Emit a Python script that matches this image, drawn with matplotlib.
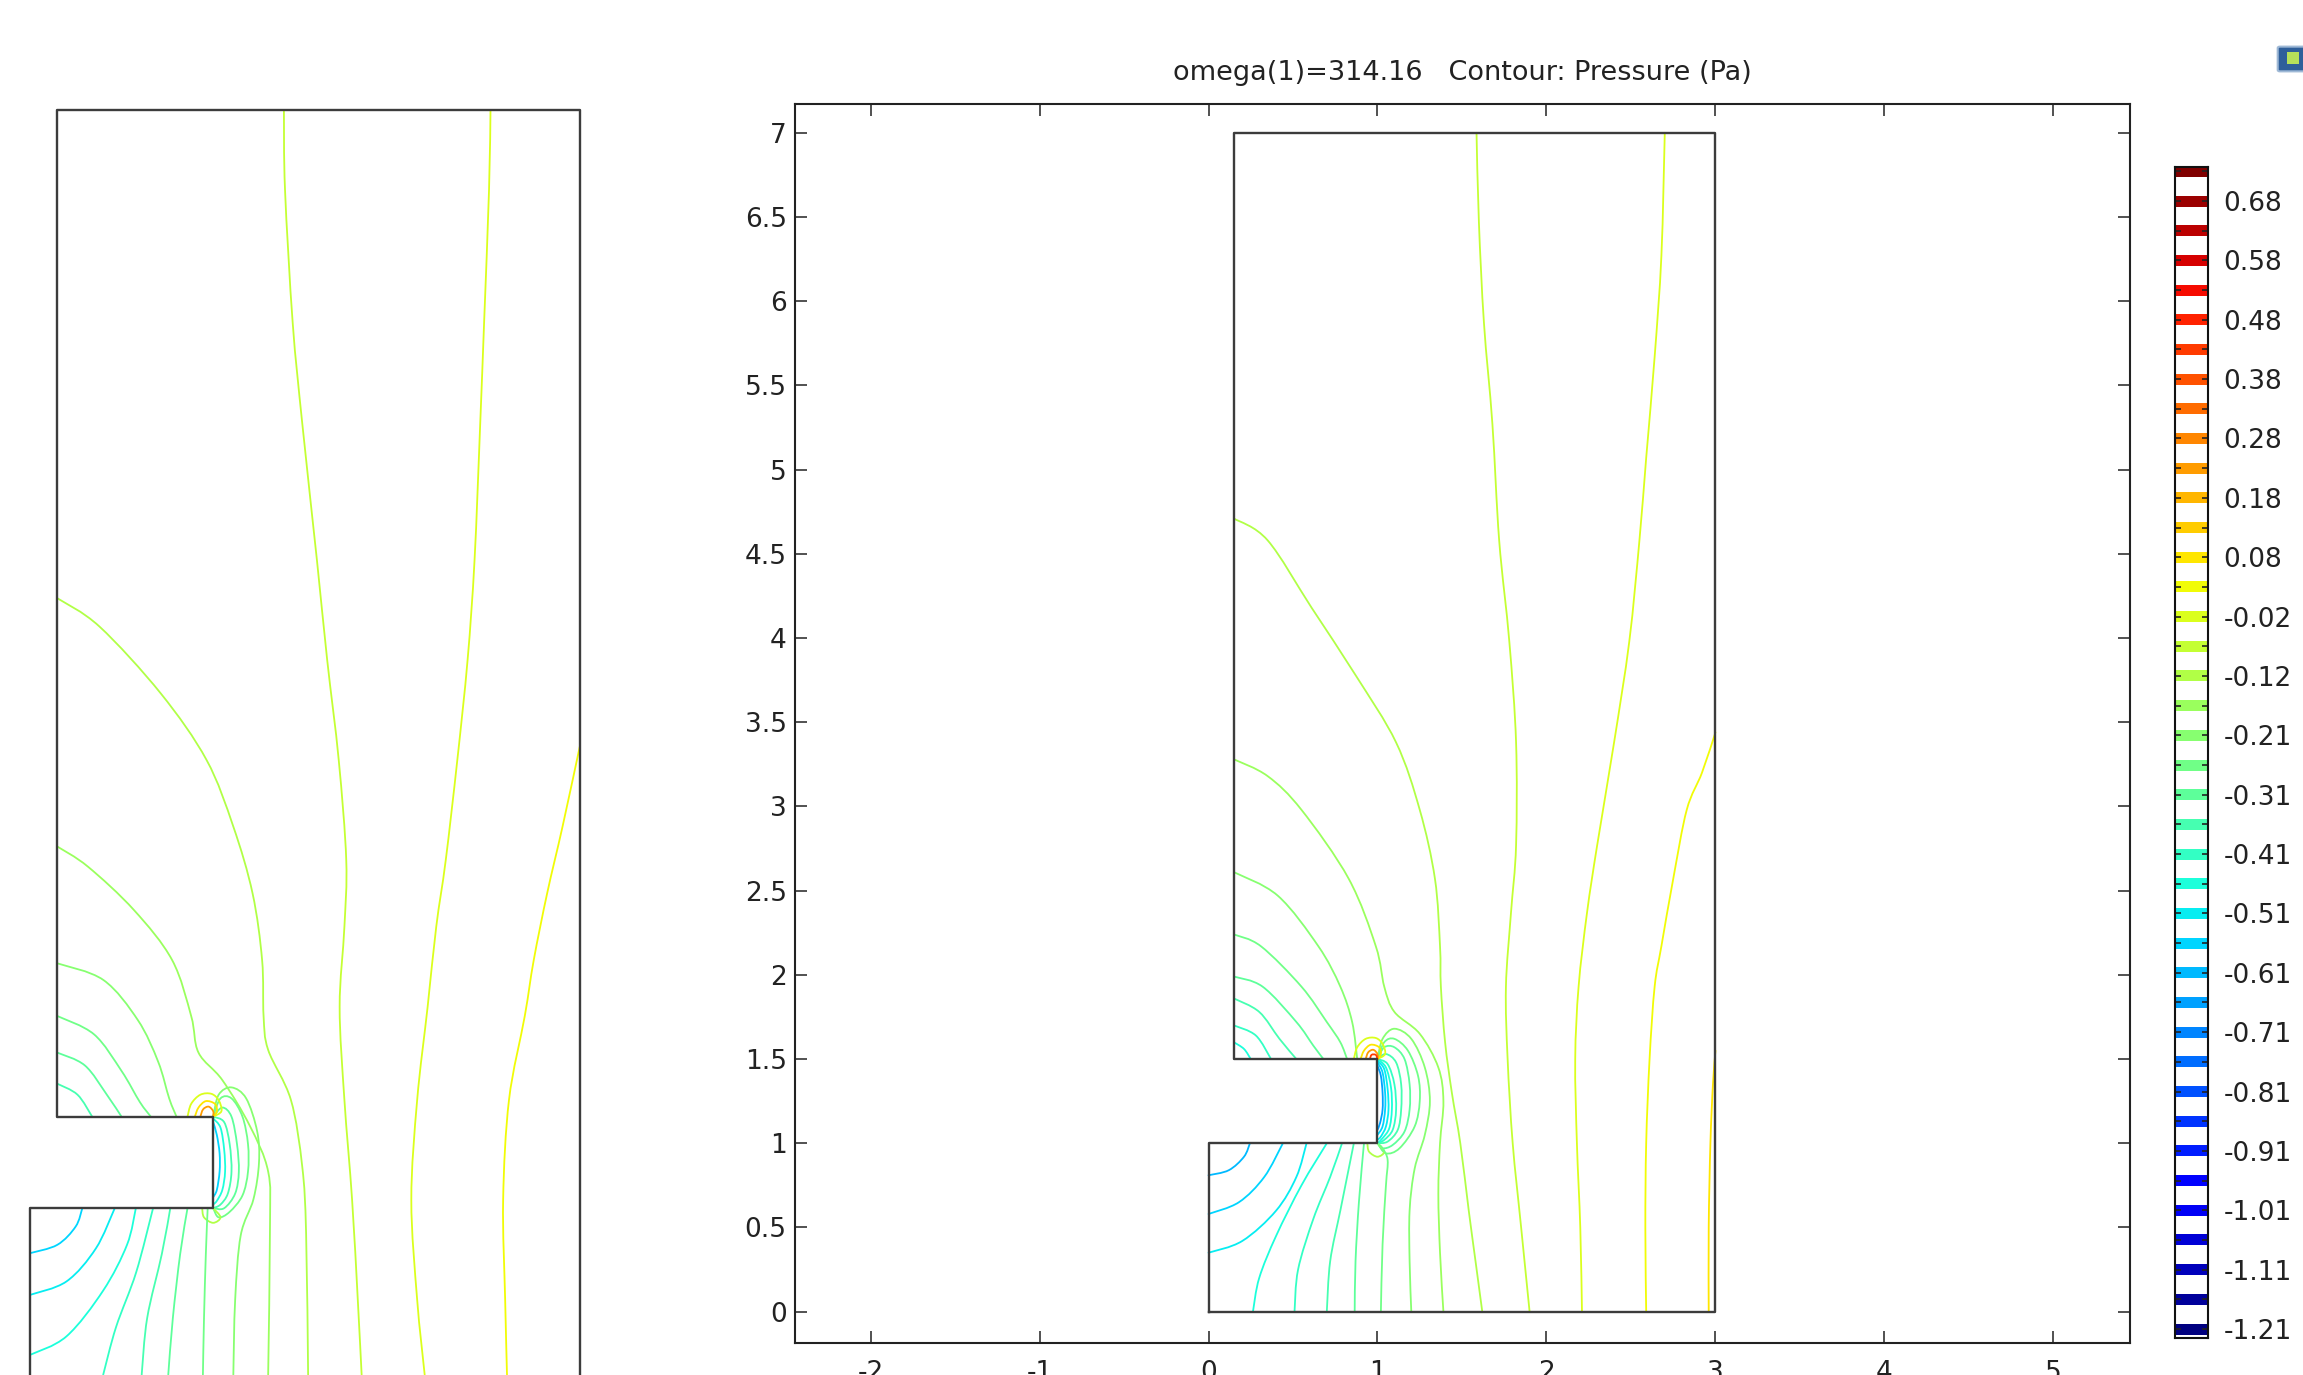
import matplotlib
matplotlib.use('Agg')
import matplotlib.pyplot as plt
from matplotlib.colors import Normalize
from matplotlib.patches import FancyBboxPatch, PathPatch
from matplotlib.path import Path

# contour levels of the pressure (Pa), 40 of them, as in the colour legend
levels = [-1.2129, -1.1630, -1.1131, -1.0632, -1.0133, -0.9634, -0.9135, -0.8636,
          -0.8137, -0.7638, -0.7139, -0.6640, -0.6141, -0.5642, -0.5143, -0.4644,
          -0.4145, -0.3646, -0.3147, -0.2648, -0.2149, -0.1650, -0.1151, -0.0652,
          -0.0153, 0.0346, 0.0845, 0.1344, 0.1843, 0.2342, 0.2841, 0.3340,
          0.3839, 0.4338, 0.4837, 0.5336, 0.5835, 0.6334, 0.6833, 0.7332]
# every second level carries a label
level_labels = ['-1.21', '-1.11', '-1.01', '-0.91', '-0.81', '-0.71', '-0.61', '-0.51',
                '-0.41', '-0.31', '-0.21', '-0.12', '-0.02', '0.08', '0.18', '0.28',
                '0.38', '0.48', '0.58', '0.68']

# outline of the model geometry (m)
geo_x = [0, 3, 3, 0.15, 0.15, 1, 1, 0, 0]
geo_y = [0, 0, 7, 7, 1.5, 1.5, 1, 1, 0]

x_ticks = [-2, -1, 0, 1, 2, 3, 4, 5]
y_ticks = [0, 0.5, 1, 1.5, 2, 2.5, 3, 3.5, 4, 4.5, 5, 5.5, 6, 6.5, 7]

title = 'omega(1)=314.16   Contour: Pressure (Pa)'

# contour lines: (level index, x, y)
right_lines = [
    (23, [1.586, 1.60, 1.63, 1.68, 1.72, 1.78, 1.82, 1.82, 1.79, 1.76, 1.77, 1.80, 1.85, 1.90],
         [7.0, 6.47, 5.87, 5.27, 4.58, 3.98, 3.38, 2.77, 2.37, 1.93, 1.5, 1.0, 0.5, 0.0]),
    (24, [2.70, 2.68, 2.64, 2.59, 2.55, 2.49, 2.40, 2.30, 2.24, 2.19, 2.17, 2.18, 2.20, 2.21],
         [7.0, 6.27, 5.67, 5.07, 4.58, 3.98, 3.38, 2.77, 2.37, 1.93, 1.5, 1.0, 0.5, 0.0]),
    (25, [3.0, 2.92, 2.83, 2.75, 2.68, 2.64, 2.61, 2.59, 2.585, 2.59],
         [3.44, 3.2, 2.98, 2.57, 2.17, 1.93, 1.5, 1.0, 0.5, 0.0]),
    (26, [3.0, 2.985, 2.97, 2.96, 2.96],
         [1.55, 1.35, 1.0, 0.5, 0.0]),
    (22, [0.15, 0.35, 0.61, 0.87, 1.11, 1.25, 1.34, 1.37, 1.375, 1.40, 1.44, 1.49, 1.54, 1.58, 1.62],
         [4.71, 4.58, 4.18, 3.78, 3.38, 2.98, 2.57, 2.17, 1.93, 1.6, 1.3, 1.0, 0.6, 0.3, 0.0]),
    (21, [0.15, 0.35, 0.55, 0.83, 0.99, 1.04, 1.10, 1.25, 1.36, 1.39, 1.37, 1.36, 1.37, 1.39],
         [3.28, 3.18, 2.98, 2.57, 2.17, 1.93, 1.78, 1.65, 1.45, 1.25, 1.0, 0.7, 0.35, 0.0]),
    (20, [0.15, 0.41, 0.65, 0.78, 0.85, 0.88], [2.61, 2.47, 2.17, 1.93, 1.72, 1.5]),
    (19, [0.15, 0.31, 0.55, 0.70, 0.78, 0.82], [2.24, 2.17, 1.93, 1.72, 1.6, 1.5]),
    (18, [0.15, 0.32, 0.52, 0.62, 0.68], [1.99, 1.93, 1.72, 1.58, 1.5]),
    (17, [0.15, 0.30, 0.42, 0.52], [1.86, 1.78, 1.62, 1.5]),
    (16, [0.15, 0.28, 0.37], [1.70, 1.64, 1.5]),
    (15, [0.15, 0.21, 0.25], [1.60, 1.56, 1.5]),
    # lines leaving the upper tip of the plate and wrapping round its face
    (20, [1.0, 1.03, 1.10, 1.20, 1.28, 1.31, 1.28, 1.22, 1.19, 1.19, 1.20],
         [1.5, 1.62, 1.68, 1.62, 1.45, 1.25, 1.05, 0.85, 0.6, 0.3, 0.0]),
    (19, [1.0, 1.04, 1.10, 1.18, 1.24, 1.25, 1.22, 1.13, 1.05, 1.0],
         [1.5, 1.6, 1.62, 1.55, 1.4, 1.25, 1.1, 0.97, 0.94, 1.0]),
    (18, [1.0, 1.04, 1.10, 1.16, 1.19, 1.19, 1.16, 1.09, 1.03, 1.0],
         [1.5, 1.57, 1.57, 1.5, 1.35, 1.2, 1.07, 0.99, 0.97, 1.0]),
    (17, [1.0, 1.05, 1.11, 1.14, 1.14, 1.12, 1.06, 1.0],
         [1.5, 1.53, 1.48, 1.35, 1.2, 1.08, 1.01, 1.0]),
    (16, [1.0, 1.06, 1.10, 1.11, 1.09, 1.04, 1.0],
         [1.5, 1.47, 1.35, 1.2, 1.08, 1.02, 1.0]),
    (15, [1.0, 1.05, 1.08, 1.085, 1.07, 1.03, 1.0],
         [1.5, 1.45, 1.33, 1.2, 1.09, 1.03, 1.0]),
    (14, [1.0, 1.04, 1.06, 1.065, 1.05, 1.02, 1.0],
         [1.49, 1.44, 1.32, 1.2, 1.1, 1.04, 1.02]),
    (13, [1.0, 1.03, 1.045, 1.045, 1.03, 1.0],
         [1.48, 1.42, 1.3, 1.2, 1.1, 1.05]),
    (11, [1.0, 1.02, 1.03, 1.03, 1.015, 1.0],
         [1.46, 1.4, 1.3, 1.2, 1.12, 1.08]),
    # hot spot at the upper tip of the plate
    (24, [0.86, 0.88, 0.93, 0.99, 1.03, 1.045, 1.0], [1.5, 1.57, 1.62, 1.625, 1.59, 1.53, 1.5]),
    (26, [0.90, 0.92, 0.96, 1.01, 1.02, 1.0], [1.5, 1.55, 1.585, 1.57, 1.53, 1.5]),
    (29, [0.93, 0.945, 0.975, 1.0, 1.0], [1.5, 1.54, 1.555, 1.53, 1.5]),
    (33, [0.955, 0.965, 0.99, 1.0], [1.5, 1.525, 1.525, 1.5]),
    # small spot at the lower tip
    (22, [0.94, 0.95, 1.0, 1.04, 1.0], [1.0, 0.95, 0.92, 0.95, 1.0]),
    # lower part, from the bottom edge to the underside of the plate
    (19, [1.02, 1.03, 1.05, 1.06, 1.03, 1.0], [0.0, 0.4, 0.75, 0.9, 0.97, 1.0]),
    (18, [0.865, 0.87, 0.89, 0.92], [0.0, 0.3, 0.65, 1.0]),
    (17, [0.70, 0.72, 0.78, 0.83, 0.86], [0.0, 0.3, 0.6, 0.85, 1.0]),
    (16, [0.509, 0.53, 0.62, 0.72, 0.79], [0.0, 0.25, 0.55, 0.8, 1.0]),
    (15, [0.263, 0.30, 0.40, 0.55, 0.70], [0.0, 0.2, 0.45, 0.75, 1.0]),
    (14, [0.0, 0.2, 0.4, 0.52, 0.58], [0.35, 0.42, 0.6, 0.8, 1.0]),
    (13, [0.0, 0.18, 0.33, 0.44], [0.58, 0.65, 0.8, 1.0]),
    (12, [0.0, 0.12, 0.21, 0.245], [0.81, 0.84, 0.92, 1.0]),
]

# contour lines of the cropped view on the left
left_lines = [
    (23, [1.386, 1.392, 1.434, 1.486, 1.566, 1.622, 1.685, 1.726, 1.716, 1.69, 1.716, 1.758, 1.789, 1.81],
         [7.0, 6.564, 5.836, 5.289, 4.542, 3.996, 3.449, 2.903, 2.538, 2.1, 1.592, 1.045, 0.499, 0.09]),
    (24, [2.513, 2.505, 2.478, 2.457, 2.426, 2.388, 2.332, 2.269, 2.217, 2.17, 2.113, 2.081, 2.113, 2.154],
         [7.0, 6.564, 5.836, 5.289, 4.542, 3.996, 3.449, 2.903, 2.538, 2.1, 1.592, 1.045, 0.499, 0.09]),
    (25, [3.0, 2.906, 2.822, 2.749, 2.70, 2.614, 2.582, 2.593, 2.603],
         [3.522, 3.085, 2.72, 2.356, 2.05, 1.592, 1.045, 0.499, 0.09]),
    (22, [0.15, 0.38, 0.714, 0.964, 1.11, 1.215, 1.267, 1.275, 1.30, 1.424, 1.486, 1.507, 1.518],
         [4.333, 4.178, 3.813, 3.449, 3.085, 2.72, 2.356, 2.05, 1.865, 1.592, 1.227, 0.863, 0.09]),
    (21, [0.15, 0.317, 0.568, 0.776, 0.88, 0.92, 1.05, 1.2, 1.3, 1.31, 1.30],
         [2.976, 2.866, 2.629, 2.356, 2.05, 1.85, 1.7, 1.45, 1.2, 0.9, 0.09]),
    (20, [0.15, 0.401, 0.589, 0.70, 0.76, 0.80], [2.338, 2.247, 2.028, 1.80, 1.6, 1.5]),
    (19, [0.15, 0.35, 0.5, 0.6, 0.66], [2.05, 1.95, 1.75, 1.58, 1.5]),
    (18, [0.15, 0.3, 0.42, 0.50], [1.85, 1.78, 1.62, 1.5]),
    (17, [0.15, 0.26, 0.34], [1.68, 1.62, 1.5]),
    (20, [1.0, 1.03, 1.10, 1.18, 1.24, 1.25, 1.22, 1.15, 1.12, 1.11],
         [1.5, 1.62, 1.66, 1.6, 1.42, 1.25, 1.05, 0.85, 0.5, 0.09]),
    (19, [1.0, 1.04, 1.10, 1.16, 1.19, 1.19, 1.16, 1.09, 1.03, 1.0],
         [1.5, 1.6, 1.6, 1.5, 1.35, 1.2, 1.07, 0.98, 0.95, 1.0]),
    (18, [1.0, 1.05, 1.10, 1.13, 1.14, 1.12, 1.06, 1.0],
         [1.5, 1.55, 1.5, 1.35, 1.2, 1.08, 1.0, 1.0]),
    (17, [1.0, 1.06, 1.09, 1.10, 1.08, 1.04, 1.0],
         [1.5, 1.47, 1.35, 1.2, 1.08, 1.02, 1.0]),
    (15, [1.0, 1.04, 1.06, 1.065, 1.05, 1.02, 1.0],
         [1.49, 1.44, 1.32, 1.2, 1.1, 1.04, 1.02]),
    (13, [1.0, 1.02, 1.035, 1.035, 1.02, 1.0],
         [1.47, 1.4, 1.3, 1.2, 1.1, 1.06]),
    (24, [0.86, 0.88, 0.93, 0.99, 1.03, 1.045, 1.0], [1.5, 1.57, 1.62, 1.625, 1.59, 1.53, 1.5]),
    (26, [0.90, 0.92, 0.96, 1.01, 1.02, 1.0], [1.5, 1.55, 1.585, 1.57, 1.53, 1.5]),
    (29, [0.93, 0.945, 0.975, 1.0, 1.0], [1.5, 1.54, 1.555, 1.53, 1.5]),
    (22, [0.94, 0.95, 1.0, 1.04, 1.0], [1.0, 0.95, 0.92, 0.95, 1.0]),
    (19, [0.944, 0.95, 0.96, 0.97], [0.09, 0.4, 0.75, 1.0]),
    (18, [0.755, 0.78, 0.82, 0.86], [0.09, 0.4, 0.75, 1.0]),
    (17, [0.61, 0.64, 0.72, 0.766], [0.09, 0.4, 0.75, 1.0]),
    (16, [0.40, 0.47, 0.58, 0.672], [0.09, 0.35, 0.65, 1.0]),
    (15, [0.0, 0.2, 0.4, 0.53, 0.578], [0.198, 0.3, 0.55, 0.8, 1.0]),
    (14, [0.0, 0.2, 0.36, 0.463], [0.526, 0.6, 0.78, 1.0]),
    (13, [0.0, 0.15, 0.25, 0.286], [0.754, 0.80, 0.9, 1.0]),
]

W, H = 2303, 1375
fig = plt.figure(figsize=(W / 100, H / 100), dpi=100)
plt.rcParams['font.family'] = ['DejaVu Sans']

cmap = plt.get_cmap('jet')
norm = Normalize(levels[0], levels[-1])


def smooth(xs, ys):
    # draw the read points as one smooth curve (Catmull-Rom as Bezier pieces)
    pts = list(zip(xs, ys))
    verts = [pts[0]]
    codes = [Path.MOVETO]
    n = len(pts)
    for i in range(n - 1):
        p0 = pts[max(i - 1, 0)]
        p1 = pts[i]
        p2 = pts[i + 1]
        p3 = pts[min(i + 2, n - 1)]
        c1 = (p1[0] + (p2[0] - p0[0]) / 6, p1[1] + (p2[1] - p0[1]) / 6)
        c2 = (p2[0] - (p3[0] - p1[0]) / 6, p2[1] - (p3[1] - p1[1]) / 6)
        verts += [c1, c2, p2]
        codes += [Path.CURVE4] * 3
    return Path(verts, codes)


def draw_lines(ax, lines):
    for k, xs, ys in lines:
        ax.add_patch(PathPatch(smooth(xs, ys), facecolor='none', edgecolor=cmap(norm(levels[k])),
                               lw=1.3, capstyle='round', joinstyle='round', zorder=2))
    ax.plot(geo_x, geo_y, color='#3c3c3c', lw=1.7, zorder=3)


# cropped view on the left, no axes
axl = fig.add_axes([0, 0, 700 / W, 1])
axl.set_xlim(-0.163, 3.656)
axl.set_ylim(0.0885, 7.602)
axl.axis('off')
draw_lines(axl, left_lines)

# main plot
ax = fig.add_axes([795 / W, 1 - 1343 / H, (2130 - 795) / W, (1343 - 104) / H])
ax.set_xlim(-2.447, 5.453)
ax.set_ylim(-0.186, 7.171)
draw_lines(ax, right_lines)
ax.set_xticks(x_ticks)
ax.set_xticklabels([str(v) for v in x_ticks])
ax.set_yticks(y_ticks)
ax.set_yticklabels(['%g' % v for v in y_ticks])
ax.tick_params(direction='in', length=8.5, width=1.1, labelsize=19, color='#222222',
               top=True, right=True, labelcolor='#222222')
ax.tick_params(axis='x', pad=12)
ax.tick_params(axis='y', pad=6)
for s in ax.spines.values():
    s.set_linewidth(1.5)
    s.set_color('#222222')
ax.set_title(title, fontsize=19.5, pad=17, color='#222222')

# colour legend
cax = fig.add_axes([2175 / W, 1 - 1338 / H, 33 / W, (1338 - 167) / H])
cax.set_ylim(-1.228, 0.7405)
cax.set_xlim(0, 1)
cax.barh(levels, 1, height=0.0185, left=0, color=[cmap(norm(v)) for v in levels])
cax.set_xticks([])
cax.set_yticks(levels)
cax.set_yticklabels([level_labels[i // 2] if i % 2 == 0 else '' for i in range(len(levels))])
cax.tick_params(axis='y', direction='in', length=4, width=1.2, left=True, right=True,
                labelleft=False, labelright=True, labelsize=19, pad=11, colors='#222222')
for s in cax.spines.values():
    s.set_linewidth(1.5)
    s.set_color('#111111')

# small toolbar icon in the corner
fig.add_artist(FancyBboxPatch((2280 / W, 1 - 70 / H), 30 / W, 22 / H,
                              boxstyle='round,pad=0.001', transform=fig.transFigure,
                              facecolor='#2f5f9a', edgecolor='#9fb9d6', lw=1.5))
fig.add_artist(FancyBboxPatch((2287 / W, 1 - 64 / H), 12 / W, 12 / H,
                              boxstyle='square,pad=0', transform=fig.transFigure,
                              facecolor='#b6e05a', edgecolor='none'))

fig.savefig('out.png', dpi=100)
